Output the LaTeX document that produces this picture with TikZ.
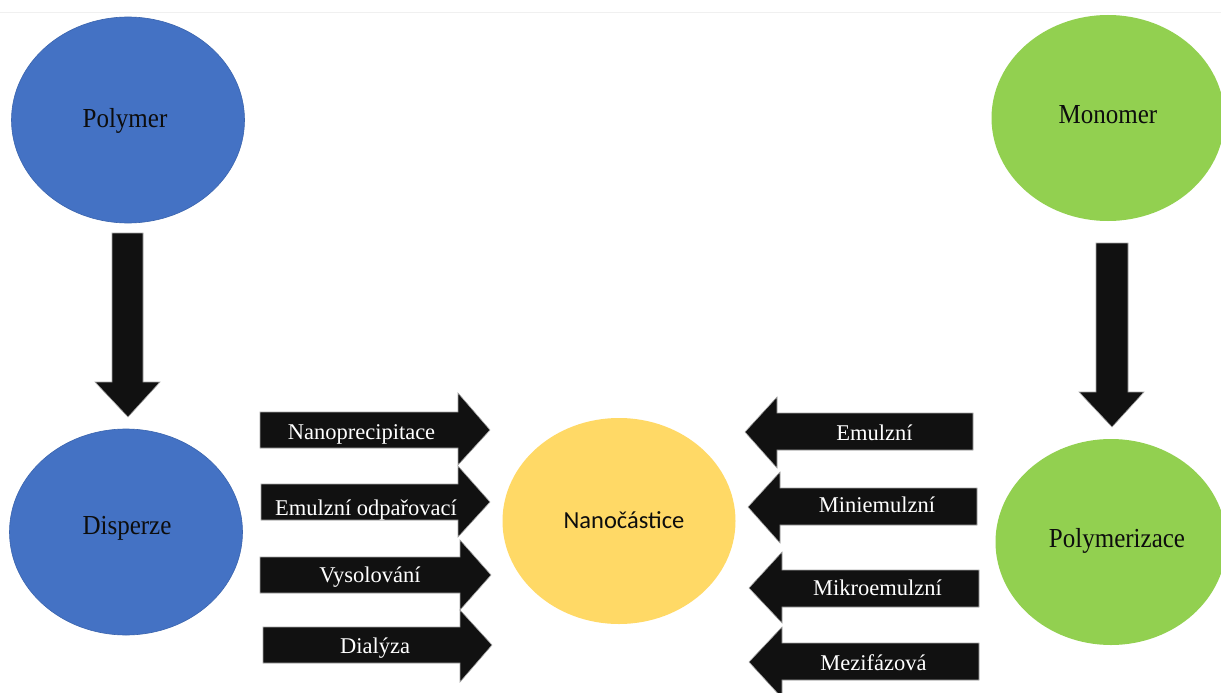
\documentclass[tikz,border=0pt]{standalone}
\usepackage{fontspec}
\usepackage{graphicx}
\setmainfont{Liberation Serif}
\newfontfamily\calib{Carlito}
\usetikzlibrary{shapes.geometric}
\definecolor{pblue}{HTML}{4472C4}
\definecolor{pblueline}{HTML}{3A64AE}
\definecolor{pgreen}{HTML}{92D050}
\definecolor{pyellow}{HTML}{FFD966}
\definecolor{arrowfill}{HTML}{111111}
\newcommand{\tallerText}[1]{\scalebox{1}[1.1]{#1}}
\tikzset{
  blob/.style={ellipse, inner sep=0pt, minimum width=233pt, minimum height=206pt, draw=none},
  bluebl/.style={blob, fill=pblue, draw=pblueline, line width=0.6pt},
  greenbl/.style={blob, fill=pgreen},
  yellowbl/.style={blob, fill=pyellow},
  bloblabel/.style={anchor=base, inner sep=0pt, text=black!95, font=\fontsize{25}{30}\selectfont},
  nanolabel/.style={anchor=base, inner sep=0pt, text=black!95, font=\calib\fontsize{24.5}{30}\selectfont},
  blockarrow/.style={fill=arrowfill, draw=black!35, line width=0.6pt},
  arrowlabel/.style={anchor=base, text=white, inner sep=0pt, font=\fontsize{22.5}{27}\selectfont}
}
\begin{document}
\begin{tikzpicture}[x=1pt,y=-1pt]
\useasboundingbox (0,0) rectangle (1221,693);
\fill[white] (0,0) rectangle (1221,693);
\coordinate (topl) at (0,13);
\coordinate (topr) at (1221,13);
\draw[black!6, line width=1pt] (topl) -- (topr);

% ellipses
\node[bluebl] (polymer) at (128,120) {};
\node[bloblabel] (polymer-t) at (125,127) {\tallerText{Polymer}};
\node[bluebl] (disperze) at (126,532) {};
\node[bloblabel] (disperze-t) at (127,534) {\tallerText{Disperze}};
\node[greenbl] (monomer) at (1108,118) {};
\node[bloblabel] (monomer-t) at (1108,123) {\tallerText{Monomer}};
\node[greenbl, minimum width=231pt] (polymerizace) at (1111,542) {};
\node[bloblabel] (polymerizace-t) at (1117,547) {\tallerText{Polymerizace}};
\node[yellowbl] (nano) at (619,521) {};
\node[nanolabel] (nano-t) at (624,528) {Nanočástice};

% down arrows
\draw[blockarrow] (112,233) -- (143,233) -- (143,382) -- (160,382) -- (128,417) -- (95,382) -- (112,382) -- cycle;
\draw[blockarrow] (1096,243) -- (1128,243) -- (1128,392) -- (1144,392) -- (1112,427) -- (1079,392) -- (1096,392) -- cycle;

% right-pointing arrows
\draw[blockarrow] (260,412) -- (458,412) -- (458,393) -- (490,430) -- (458,465) -- (458,448) -- (260,448) -- cycle;
\node[arrowlabel] (a1) at (361.5,439) {Nanoprecipitace};
\draw[blockarrow] (261,484) -- (458,484) -- (458,466) -- (490,502) -- (458,537) -- (458,520) -- (261,520) -- cycle;
\node[arrowlabel] (a2) at (366,515) {Emulzní odpařovací};
\draw[blockarrow] (260,557) -- (460,557) -- (460,540) -- (491,575) -- (460,610) -- (460,593) -- (260,593) -- cycle;
\node[arrowlabel] (a3) at (370,582) {Vysolování};
\draw[blockarrow] (263,627) -- (460,627) -- (460,610) -- (492,645) -- (460,682) -- (460,663) -- (263,663) -- cycle;
\node[arrowlabel] (a4) at (375,653) {Dialýza};

% left-pointing arrows
\draw[blockarrow] (973,413) -- (777,413) -- (777,397) -- (745,432) -- (777,468) -- (777,450) -- (973,450) -- cycle;
\node[arrowlabel] (b1) at (874.5,440) {Emulzní};
\draw[blockarrow] (977,488) -- (780,488) -- (780,472) -- (748,507) -- (780,543) -- (780,525) -- (977,525) -- cycle;
\node[arrowlabel] (b2) at (877,512) {Miniemulzní};
\draw[blockarrow] (979,570) -- (782,570) -- (782,552) -- (749,588) -- (782,623) -- (782,607) -- (979,607) -- cycle;
\node[arrowlabel] (b3) at (877.5,595) {Mikroemulzní};
\draw[blockarrow] (979,643) -- (782,643) -- (782,627) -- (749,662) -- (782,698) -- (782,680) -- (979,680) -- cycle;
\node[arrowlabel] (b4) at (873.5,670) {Mezifázová};
\end{tikzpicture}
\end{document}
